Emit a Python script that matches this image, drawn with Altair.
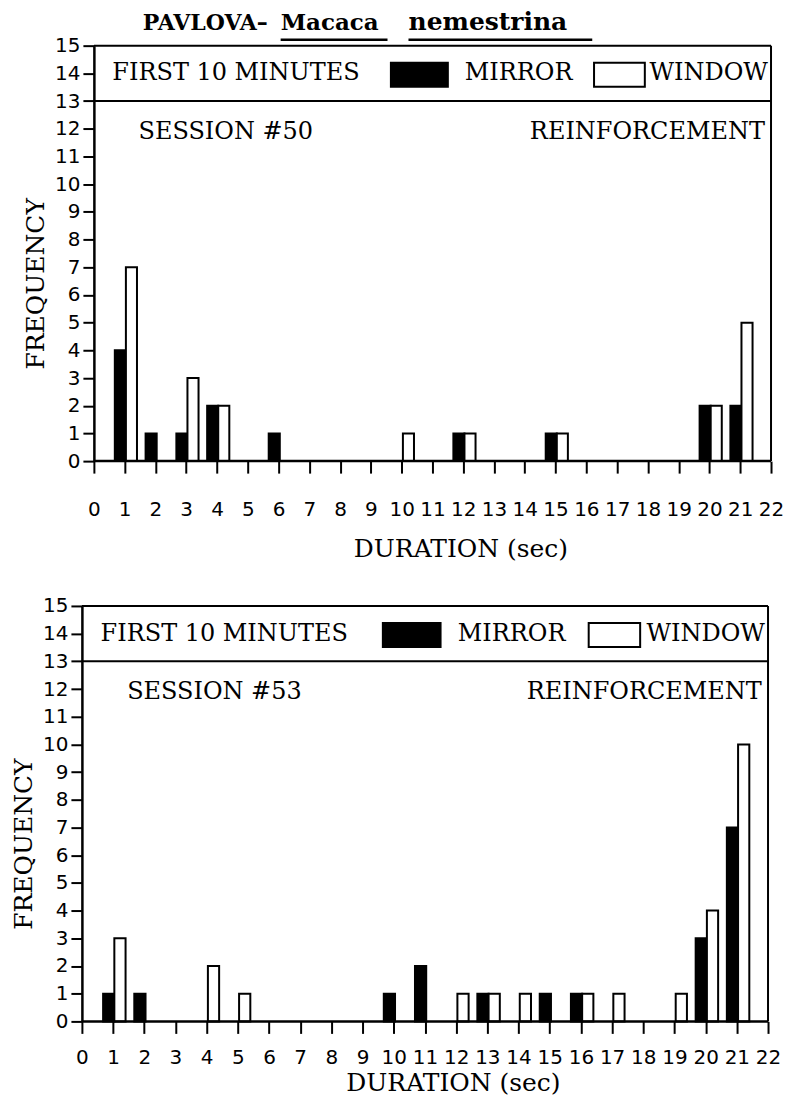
import altair as alt
import pandas as pd

# ---------------- data ----------------
series_names = ["MIRROR", "WINDOW"]
series_fill = ["black", "white"]

s50_mirror_dur = [1, 2, 3, 4, 6, 12, 15, 20, 21]
s50_mirror_freq = [4, 1, 1, 2, 1, 1, 1, 2, 2]
s50_window_dur = [1, 3, 4, 10, 12, 15, 20, 21]
s50_window_freq = [7, 3, 2, 1, 1, 1, 2, 5]

s53_mirror_dur = [1, 2, 10, 11, 13, 15, 16, 20, 21]
s53_mirror_freq = [1, 1, 1, 2, 1, 1, 1, 3, 7]
s53_window_dur = [1, 4, 5, 12, 13, 14, 16, 17, 19, 20, 21]
s53_window_freq = [3, 2, 1, 1, 1, 1, 1, 1, 1, 4, 10]

x_ticks = list(range(0, 23))
y_ticks = list(range(0, 16))

title_parts = ["PAVLOVA\u2013", "Macaca", "nemestrina"]
band_label = "FIRST 10 MINUTES"
right_label = "REINFORCEMENT"
sessions = ["SESSION #50", "SESSION #53"]

GW = 690   # group width shared by both panels
H = 416


def make_df(md, mf, wd, wf):
    rows = [{"series": "MIRROR", "dur": d, "freq": f} for d, f in zip(md, mf)]
    rows += [{"series": "WINDOW", "dur": d, "freq": f} for d, f in zip(wd, wf)]
    return pd.DataFrame(rows)


one = pd.DataFrame({"k": [0]})


def panel(df, session, x_range, y_off, lab_pad, tit_pad, with_title):
    xs = alt.Scale(domain=[0, 22], nice=False, zero=False, range=x_range)
    ys = alt.Scale(domain=[0, 15], nice=False)
    xax = alt.Axis(
        values=x_ticks, format="d", title="DURATION (sec)", tickSize=12,
        labelPadding=lab_pad, titlePadding=tit_pad, domain=False,
        labelOverlap=False, labelFlush=False,
        titleX=(x_range[0] + x_range[1]) / 2 + 28,
    )
    yax = alt.Axis(
        values=y_ticks, format="d", title="FREQUENCY", tickSize=11,
        labelPadding=3, titlePadding=6, offset=y_off,
        labelOverlap=False, labelFlush=False, titleY=H / 2 + 30,
    )

    def xd(v):
        return alt.XDatum(v, type="quantitative", scale=xs, axis=xax)

    def yd(v):
        return alt.YDatum(v, type="quantitative", scale=ys, axis=yax)

    bars = (
        alt.Chart(df)
        .transform_calculate(
            x0="datum.dur + (datum.series == 'MIRROR' ? -0.32 : 0.04)"
        )
        .transform_calculate(x1="datum.x0 + 0.36")
        .mark_bar(stroke="black", strokeWidth=2)
        .encode(
            x=alt.X("x0:Q", scale=xs, axis=xax),
            x2="x1:Q",
            y=alt.Y("freq:Q", scale=ys, axis=yax),
            y2=alt.Y2Datum(0),
            fill=alt.Fill(
                "series:N",
                scale=alt.Scale(domain=series_names, range=series_fill),
                legend=None,
            ),
        )
    )
    rule_style = dict(color="black", strokeWidth=2)
    base_line = alt.Chart(one).mark_rule(color="black", strokeWidth=2.5).encode(
        x=xd(0), x2=alt.X2Datum(22), y=yd(0)
    )
    top_line = alt.Chart(one).mark_rule(**rule_style).encode(
        x=xd(0), x2=alt.X2Datum(22), y=yd(15)
    )
    right_line = alt.Chart(one).mark_rule(**rule_style).encode(
        x=xd(22), y=yd(0), y2=alt.Y2Datum(15)
    )
    band = alt.Chart(one).mark_rule(**rule_style).encode(
        x=xd(0), x2=alt.X2Datum(22), y=yd(13)
    )
    sw_m = alt.Chart(one).mark_rect(fill="black", stroke="black", strokeWidth=2).encode(
        x=xd(9.65), x2=alt.X2Datum(11.5), y=yd(13.52), y2=alt.Y2Datum(14.38)
    )
    sw_w = alt.Chart(one).mark_rect(fill="white", stroke="black", strokeWidth=2).encode(
        x=xd(16.25), x2=alt.X2Datum(17.9), y=yd(13.52), y2=alt.Y2Datum(14.38)
    )
    tstyle = dict(font="DejaVu Serif", fontSize=24, color="black", baseline="middle")
    t1 = alt.Chart(one).mark_text(text=band_label, align="left", **tstyle).encode(
        x=xd(0.6), y=yd(14.0)
    )
    t2 = alt.Chart(one).mark_text(text=series_names[0], align="left", **tstyle).encode(
        x=xd(12.05), y=yd(14.0)
    )
    t3 = alt.Chart(one).mark_text(text=series_names[1], align="right", **tstyle).encode(
        x=xd(21.9), y=yd(14.0)
    )
    t4 = alt.Chart(one).mark_text(text=session, align="left", **tstyle).encode(
        x=xd(1.45), y=yd(11.9)
    )
    t5 = alt.Chart(one).mark_text(text=right_label, align="right", **tstyle).encode(
        x=xd(21.8), y=yd(11.9)
    )
    layers = [bars, base_line, top_line, right_line, band, sw_m, sw_w, t1, t2, t3, t4, t5]
    if with_title:
        starts = [49 + x_range[0], 187 + x_range[0], 315 + x_range[0]]
        sizes = [22, 23, 25]
        for txt, sx, fs in zip(title_parts, starts, sizes):
            layers.append(
                alt.Chart(one).mark_text(
                    text=txt, font="DejaVu Serif", fontSize=fs, fontWeight="bold",
                    color="black", baseline="alphabetic", align="left"
                ).encode(x=alt.value(sx), y=alt.value(-16))
            )
        for a, b in [(187, 294), (315, 499)]:
            layers.append(
                alt.Chart(one).mark_rule(color="black", strokeWidth=2.5).encode(
                    x=alt.value(a + x_range[0]), x2=alt.value(b + x_range[0]),
                    y=alt.value(-6)
                )
            )
    return alt.layer(*layers).properties(width=GW, height=H)


top = panel(make_df(s50_mirror_dur, s50_mirror_freq, s50_window_dur, s50_window_freq),
            sessions[0], [12, 690], -12, 26, 18, True)
bottom = panel(make_df(s53_mirror_dur, s53_mirror_freq, s53_window_dur, s53_window_freq),
               sessions[1], [0, 687], 0, 14, 3, False)

chart = (
    alt.vconcat(top, bottom, spacing=32)
    .properties(padding={"left": 3, "top": 0, "right": 0, "bottom": 0})
    .configure_view(stroke="transparent")
    .configure_axis(
        labelFont="DejaVu Sans",
        labelFontSize=20,
        labelColor="black",
        labelOverlap=False,
        titleFont="DejaVu Serif",
        titleFontSize=25,
        titleFontWeight="normal",
        titleColor="black",
        domainColor="black",
        domainWidth=2.5,
        tickColor="black",
        tickWidth=2,
        grid=False,
    )
)

chart.save("out.html", embed_options={"renderer": "svg", "actions": False})
